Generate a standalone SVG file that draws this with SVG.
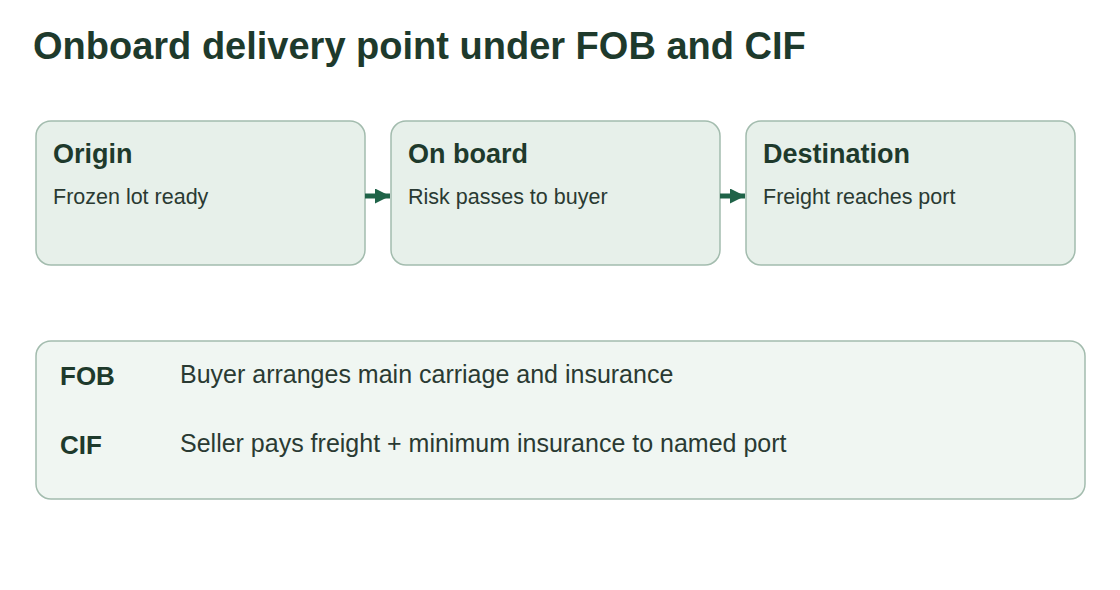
<svg xmlns="http://www.w3.org/2000/svg" width="1120" height="590" viewBox="0 0 1120 590">
<style>
.box{fill:#e7f0ea;stroke:#a3bcae;stroke-width:1.5}
.h{font-family:"Liberation Sans",Arial,sans-serif;font-weight:bold;font-size:27px;fill:#1e3a2c}
.t{font-family:"Liberation Sans",Arial,sans-serif;font-size:21.5px;fill:#2a3a32}
.k{font-family:"Liberation Sans",Arial,sans-serif;font-weight:bold;font-size:26px;fill:#1e3a2c}
.v{font-family:"Liberation Sans",Arial,sans-serif;font-size:25px;fill:#2a3a32}
</style>
<defs><marker id="a" markerWidth="3" markerHeight="3" refX="3" refY="1.5" orient="auto" markerUnits="strokeWidth"><path d="M0,0L3,1.5L0,3Z" fill="#1f6348"/></marker></defs>
<rect width="1120" height="590" fill="#fff"/>
<text x="33" y="59" font-family="Liberation Sans,Arial,sans-serif" font-weight="bold" font-size="38" fill="#1e3a2c">Onboard delivery point under FOB and CIF</text>
<g id="origin"><rect class="box" x="36" y="121" width="329" height="144" rx="15"/><text class="h" x="53" y="163">Origin</text><text class="t" x="53" y="204">Frozen lot ready</text></g>
<g id="onboard"><rect class="box" x="391" y="121" width="329" height="144" rx="15"/><text class="h" x="408" y="163">On board</text><text class="t" x="408" y="204">Risk passes to buyer</text></g>
<g id="destination"><rect class="box" x="746" y="121" width="329" height="144" rx="15"/><text class="h" x="763" y="163">Destination</text><text class="t" x="763" y="204">Freight reaches port</text></g>
<g id="connectors" stroke="#1f6348" stroke-width="5">
<line x1="365" y1="196" x2="390" y2="196" marker-end="url(#a)"/>
<line x1="720" y1="196" x2="745" y2="196" marker-end="url(#a)"/>
</g>
<g id="legend"><rect x="36" y="341" width="1049" height="158" rx="15" fill="#f0f6f2" stroke="#a3bcae" stroke-width="1.5"/>
<text class="k" x="60" y="385">FOB</text><text class="v" x="180" y="383">Buyer arranges main carriage and insurance</text>
<text class="k" x="60" y="454">CIF</text><text class="v" x="180" y="452">Seller pays freight + minimum insurance to named port</text></g>
</svg>
